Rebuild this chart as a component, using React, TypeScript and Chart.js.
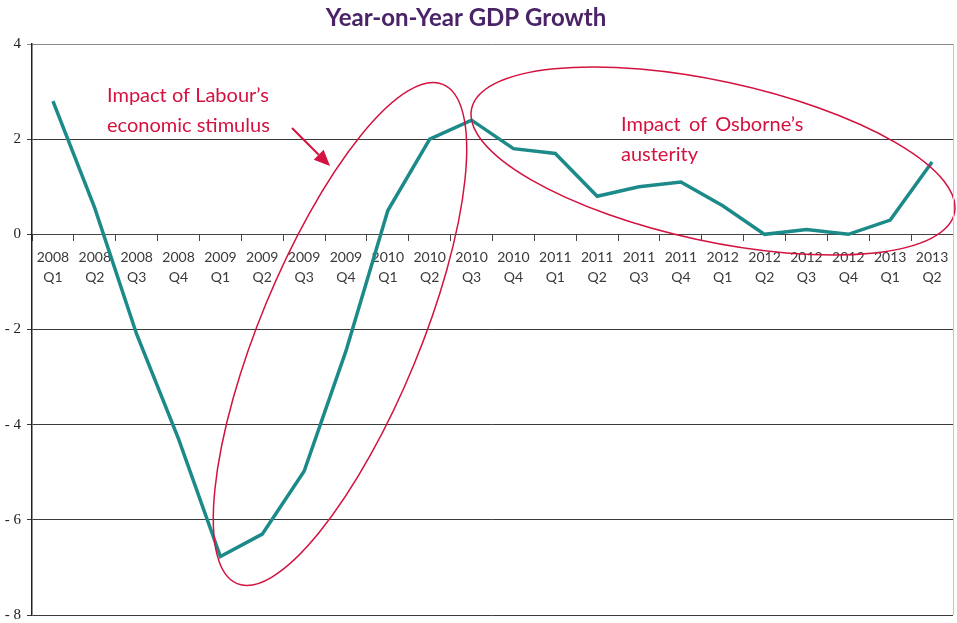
import React, { useEffect, useRef } from "react";
import { Chart, registerables } from "chart.js";

Chart.register(...registerables);

const periods = [
  "2008 Q1", "2008 Q2", "2008 Q3", "2008 Q4",
  "2009 Q1", "2009 Q2", "2009 Q3", "2009 Q4",
  "2010 Q1", "2010 Q2", "2010 Q3", "2010 Q4",
  "2011 Q1", "2011 Q2", "2011 Q3", "2011 Q4",
  "2012 Q1", "2012 Q2", "2012 Q3", "2012 Q4",
  "2013 Q1", "2013 Q2",
];

const gdpGrowth = [
  2.8, 0.55, -2.1, -4.3,
  -6.77, -6.3, -4.98, -2.45,
  0.5, 2.0, 2.4, 1.8,
  1.7, 0.8, 1.0, 1.1,
  0.6, 0.0, 0.1, 0.0,
  0.3, 1.52,
];

const yTicks = [4, 2, 0, -2, -4, -6, -8];

const titleText = "Year-on-Year GDP Growth";
const labourNote = ["Impact of Labour\u2019s", "economic stimulus"];
const osborneNote = ["Impact of Osborne\u2019s", "austerity"];

const RED = "#d3123f";

const annotationPlugin = {
  id: "annotations",
  afterDraw(chart: any) {
    const ctx = chart.ctx;
    ctx.save();
    // Title
    ctx.fillStyle = "#4a2466";
    ctx.font = "bold 24px Lato, 'Open Sans', sans-serif";
    ctx.textAlign = "center";
    ctx.textBaseline = "middle";
    ctx.fillText(titleText, 466, 18);

    // Notes
    ctx.fillStyle = RED;
    ctx.font = "20px Lato, 'Open Sans', sans-serif";
    ctx.textAlign = "left";
    ctx.textBaseline = "middle";
    ctx.fillText(labourNote[0], 107, 96);
    ctx.fillText(labourNote[1], 107, 126);
    (ctx as any).wordSpacing = "3px";
    ctx.fillText(osborneNote[0], 621, 125);
    (ctx as any).wordSpacing = "0px";
    ctx.fillText(osborneNote[1], 621, 155);

    // Ellipses
    ctx.strokeStyle = RED;
    ctx.lineWidth = 1.5;
    ctx.beginPath();
    ctx.ellipse(340, 334, 270, 80, (-67.6 * Math.PI) / 180, 0, Math.PI * 2);
    ctx.stroke();
    ctx.beginPath();
    ctx.ellipse(713, 161, 247, 80, (12.2 * Math.PI) / 180, 0, Math.PI * 2);
    ctx.stroke();

    // Arrow
    const x1 = 292, y1 = 128, x2 = 330, y2 = 166;
    const ang = Math.atan2(y2 - y1, x2 - x1);
    const hl = 16, hw = 7;
    const bx = x2 - hl * Math.cos(ang), by = y2 - hl * Math.sin(ang);
    ctx.lineWidth = 2;
    ctx.beginPath();
    ctx.moveTo(x1, y1);
    ctx.lineTo(bx, by);
    ctx.stroke();
    ctx.fillStyle = RED;
    ctx.beginPath();
    ctx.moveTo(x2, y2);
    ctx.lineTo(bx - hw * Math.sin(ang), by + hw * Math.cos(ang));
    ctx.lineTo(bx + hw * Math.sin(ang), by - hw * Math.cos(ang));
    ctx.closePath();
    ctx.fill();

    // right border
    const ca = chart.chartArea;
    ctx.strokeStyle = "#c8c8c8";
    ctx.lineWidth = 1;
    ctx.beginPath();
    ctx.moveTo(Math.round(ca.right) + 0.5, ca.top);
    ctx.lineTo(Math.round(ca.right) + 0.5, ca.bottom);
    ctx.stroke();
    ctx.restore();
  },
};

export default function App() {
  const canvasRef = useRef<HTMLCanvasElement | null>(null);

  useEffect(() => {
    document.body.style.margin = "0";
    const canvas = canvasRef.current;
    if (!canvas) return;
    const chart = new Chart(canvas, {
      type: "line",
      data: {
        labels: periods.map((p) => p.split(" ")),
        datasets: [
          {
            data: gdpGrowth,
            borderColor: "#1d8a8a",
            borderWidth: 3.5,
            pointRadius: 0,
            tension: 0,
            fill: false,
          },
        ],
      },
      options: {
        animation: false,
        responsive: false,
        maintainAspectRatio: false,
        layout: { padding: { top: 44, right: 4, bottom: 8, left: 0 } },
        plugins: {
          legend: { display: false },
          title: { display: false },
          tooltip: { enabled: false },
        },
        scales: {
          x: {
            type: "category",
            position: { y: 0 } as any,
            offset: true,
            afterFit(scale: any) {
              scale.height = 0;
              scale.paddingLeft = 0;
              scale.paddingRight = 0;
              scale.paddingTop = 0;
              scale.paddingBottom = 0;
            },
            grid: {
              drawOnChartArea: false,
              drawTicks: true,
              tickLength: 6,
              color: "#444",
              offset: true,
            },
            border: { display: true, color: "#444", width: 1 },
            ticks: {
              autoSkip: false,
              maxRotation: 0,
              minRotation: 0,
              padding: 7,
              color: "#3a3a3a",
              font: { family: "Lato, 'Open Sans', sans-serif", size: 14, lineHeight: 1.45 },
            },
          },
          y: {
            min: -8,
            max: 4,
            afterFit(scale: any) {
              scale.width = 32;
              scale.paddingBottom = 0;
              scale.paddingTop = 0;
            },
            afterBuildTicks(scale: any) {
              scale.ticks = yTicks.map((v) => ({ value: v }));
            },
            grid: {
              color: (c: any) => (c.tick && c.tick.value === 4 ? "#8a8a8a" : "#3a3a3a"),
              lineWidth: 1,
              drawTicks: true,
              tickLength: 5,
            },
            border: { display: true, color: "#222", width: 1.5 },
            ticks: {
              padding: 6,
              color: "#222",
              font: { family: "'Liberation Serif', serif", size: 15 },
              callback: (v: any) => (Number(v) < 0 ? "- " + Math.abs(Number(v)) : String(v)),
            },
          },
        },
      },
      plugins: [annotationPlugin],
    });
    return () => chart.destroy();
  }, []);

  return (
    <div style={{ width: 957, height: 623, background: "#fff" }}>
      <canvas ref={canvasRef} width={957} height={623} style={{ display: "block" }} />
    </div>
  );
}
